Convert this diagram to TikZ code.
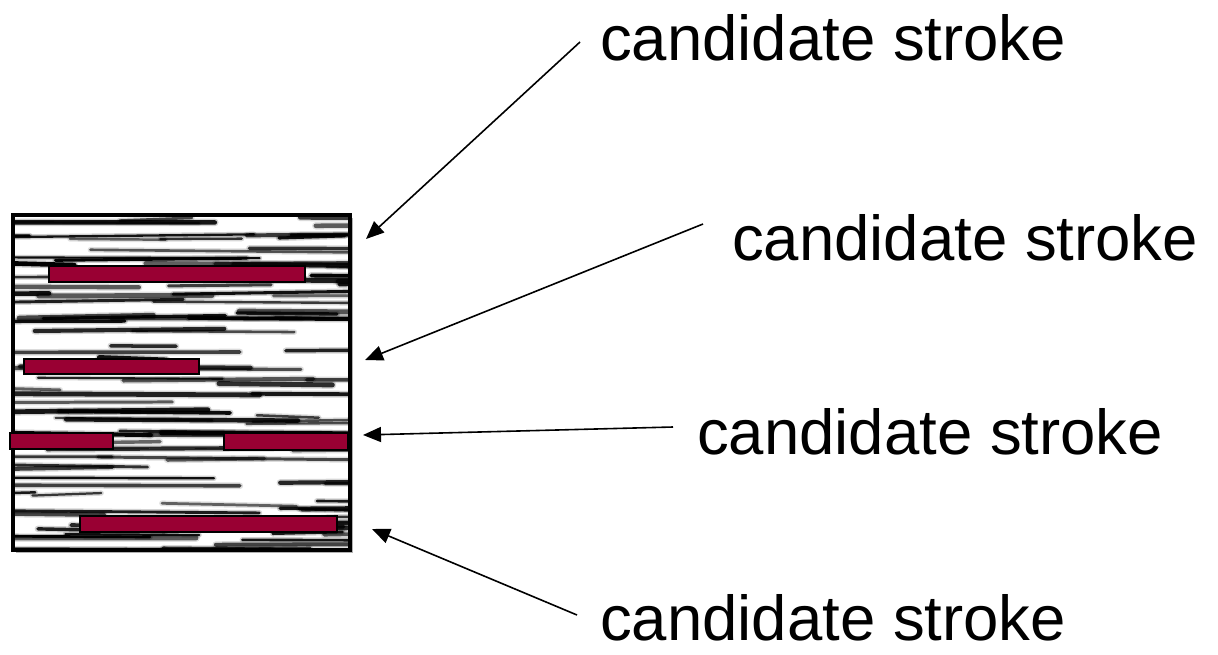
\documentclass[tikz,border=0pt]{standalone}
\usepackage{fontspec}
\setmainfont{Liberation Sans}
\usetikzlibrary{arrows.meta}
\definecolor{barred}{RGB}{153,0,51}
\tikzset{
  label/.style={anchor=base west, inner sep=0pt, font=\fontsize{63.5}{70}\selectfont},
  bar/.style={draw=black, line width=1.5pt, fill=barred},
  pointer/.style={line width=1.6pt, -{Triangle[length=18pt,width=15pt]}},
  streak/.style={black, line cap=round},
}
\begin{document}
\begin{tikzpicture}[x=1pt,y=-1pt]
\useasboundingbox (0,0) rectangle (1218,654);
% box shadow and background
\fill[black!30] (16,218) rectangle (353,553);
\fill[white] (13,215) rectangle (350,550);
% fibrous texture
\begin{scope}
\clip (13,215) rectangle (350,550);
\pgfmathsetseed{4242}
\foreach \i in {1,...,120} {
  \pgfmathsetmacro\xa{rnd*420-80}
  \pgfmathsetmacro\len{60+rnd*220}
  \pgfmathsetmacro\yy{217+rnd*333}
  \pgfmathsetmacro\dy{(rnd-0.5)*6}
  \pgfmathsetmacro\w{2+rnd*3}
  \pgfmathsetmacro\op{0.55+rnd*0.45}
  \draw[streak, line width=\w+3, opacity=0.2*\op] (\xa,\yy) -- ++(\len,\dy);
  \draw[streak, line width=\w, opacity=\op] (\xa,\yy) -- ++(\len,\dy);
}
\end{scope}
\draw[line width=3.5pt] (13,215) rectangle (350,550);
% candidate stroke bars
\node[bar, minimum width=256pt, minimum height=16pt, inner sep=0pt, anchor=north west] (b1) at (48,265) {};
\node[bar, minimum width=175pt, minimum height=15pt, inner sep=0pt, anchor=north west] (b2) at (23,358) {};
\node[bar, minimum width=103pt, minimum height=16pt, inner sep=0pt, anchor=north west] (b3) at (9,432) {};
\node[bar, minimum width=124pt, minimum height=17pt, inner sep=0pt, anchor=north west] (b4) at (223,432) {};
\node[bar, minimum width=257pt, minimum height=16pt, inner sep=0pt, anchor=north west] (b5) at (79,515) {};
% labels
\node[label] (t1) at (600,60) {candidate stroke};
\node[label] (t2) at (732,260) {candidate stroke};
\node[label] (t3) at (697,454) {candidate stroke};
\node[label] (t4) at (600,640) {candidate stroke};
% arrow end points
\coordinate (s1) at (580,42);  \coordinate (e1) at (366,239);
\coordinate (s2) at (703,224); \coordinate (e2) at (365,360);
\coordinate (s3) at (673,427); \coordinate (e3) at (363,435);
\coordinate (s4) at (577,615); \coordinate (e4) at (372,529);
\draw[pointer] (s1) -- (e1);
\draw[pointer] (s2) -- (e2);
\draw[pointer] (s3) -- (e3);
\draw[pointer] (s4) -- (e4);
\end{tikzpicture}
\end{document}
